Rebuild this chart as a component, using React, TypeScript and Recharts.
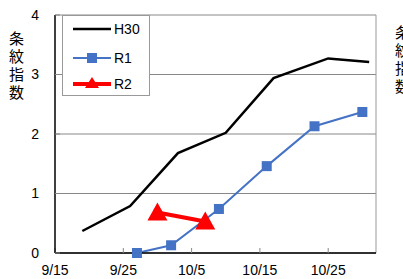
import { LineChart, Line, XAxis, YAxis, CartesianGrid, ReferenceLine } from "recharts";

const xTickLabels = ["9/15", "9/25", "10/5", "10/15", "10/25"];
const yTicks = [0, 1, 2, 3, 4];
const axisEnd = "11/1";

const h30Dates = ["9/19", "9/26", "10/3", "10/10", "10/17", "10/25", "10/31"];
const h30Values = [0.37, 0.79, 1.68, 2.02, 2.94, 3.27, 3.21];
const r1Dates = ["9/27", "10/2", "10/9", "10/16", "10/23", "10/30"];
const r1Values = [0, 0.13, 0.74, 1.46, 2.13, 2.37];
const r2Dates = ["9/30", "10/7"];
const r2Values = [0.68, 0.53];

const yLabel = "条紋指数";

// days counted from 9/15
const monthStart: Record<number, number> = { 9: 0, 10: 30, 11: 61 };
const dayOf = (s: string) => {
    const [m, d] = s.split("/").map(Number);
    return monthStart[m] + d - 15;
};
const toRows = (dates: string[], values: number[]) =>
    dates.map((d, i) => ({ day: dayOf(d), value: values[i] }));

const h30 = toRows(h30Dates, h30Values);
const r1 = toRows(r1Dates, r1Values);
const r2 = toRows(r2Dates, r2Values);

const xTicks = xTickLabels.map(dayOf);
const xMax = dayOf(axisEnd);

const BLUE = "#4472C4";
const RED = "#FF0000";
const FONT = "'Liberation Sans', Arial, sans-serif";
const JP = "'Noto Sans CJK JP', sans-serif";

const Square = (props: any) => {
    const { cx, cy } = props;
    if (cx == null || cy == null) return null;
    return <rect x={cx - 5} y={cy - 5} width={10} height={10} fill={BLUE} />;
};

const Triangle = (props: any) => {
    const { cx, cy } = props;
    if (cx == null || cy == null) return null;
    return (
        <polygon
            points={`${cx},${cy - 10} ${cx - 10},${cy + 8} ${cx + 10},${cy + 8}`}
            fill={RED}
        />
    );
};

const LegendBox = () => (
    <div
        style={{
            position: "absolute",
            left: 62,
            top: 15,
            width: 88,
            height: 81,
            border: "1px solid #999",
            background: "#fff",
            boxSizing: "border-box",
        }}
    >
        <svg width={88} height={81} style={{ position: "absolute", left: 0, top: 0 }}>
            <line x1={10} x2={48} y1={13} y2={13} stroke="#000" strokeWidth={2.5} />
            <text x={51} y={18} fontSize={14} fontFamily={FONT}>H30</text>
            <line x1={10} x2={48} y1={42} y2={42} stroke={BLUE} strokeWidth={2} />
            <rect x={24} y={37} width={10} height={10} fill={BLUE} />
            <text x={51} y={47} fontSize={14} fontFamily={FONT}>R1</text>
            <line x1={10} x2={48} y1={68} y2={68} stroke={RED} strokeWidth={4} />
            <polygon points="29,61 22,72 36,72" fill={RED} />
            <text x={51} y={73} fontSize={14} fontFamily={FONT}>R2</text>
        </svg>
    </div>
);

const VerticalLabel = ({ left, top }: { left: number; top: number }) => (
    <div
        style={{
            position: "absolute",
            left,
            top,
            writingMode: "vertical-rl",
            fontFamily: JP,
            fontSize: 15,
            lineHeight: "17px",
            letterSpacing: 3,
            color: "#000",
        }}
    >
        {yLabel}
    </div>
);

export default function App() {
    return (
        <div
            style={{
                position: "absolute",
                left: 0,
                top: 0,
                width: 403,
                height: 279,
                background: "#fff",
                overflow: "hidden",
            }}
        >
            <LineChart
                width={403}
                height={279}
                margin={{ top: 15, right: 27, bottom: 0, left: 10 }}
            >
                <CartesianGrid vertical={false} stroke="#888" />
                <XAxis
                    dataKey="day"
                    type="number"
                    domain={[0, xMax]}
                    ticks={xTicks}
                    tickFormatter={(v: number) => xTickLabels[xTicks.indexOf(v)] ?? ""}
                    height={26}
                    allowDataOverflow
                    axisLine={{ stroke: "#000", strokeWidth: 1.5 }}
                    tickLine={{ stroke: "#888" }}
                    tickSize={-5}
                    tickMargin={17}
                    tick={{ fill: "#000", fontSize: 14, fontFamily: FONT }}
                />
                <YAxis
                    type="number"
                    domain={[0, 4]}
                    ticks={yTicks}
                    width={45}
                    axisLine={{ stroke: "#000", strokeWidth: 1.5 }}
                    tickLine={{ stroke: "#888" }}
                    tickSize={-5}
                    tickMargin={21}
                    tick={{ fill: "#000", fontSize: 14, fontFamily: FONT }}
                />
                <ReferenceLine x={xMax} stroke="#999" />
                <Line
                    data={h30}
                    dataKey="value"
                    stroke="#000"
                    strokeWidth={2.5}
                    dot={false}
                    isAnimationActive={false}
                />
                <Line
                    data={r1}
                    dataKey="value"
                    stroke={BLUE}
                    strokeWidth={2}
                    dot={<Square />}
                    isAnimationActive={false}
                />
                <Line
                    data={r2}
                    dataKey="value"
                    stroke={RED}
                    strokeWidth={4}
                    dot={<Triangle />}
                    isAnimationActive={false}
                />
            </LineChart>
            <LegendBox />
            <VerticalLabel left={8} top={31} />
            <VerticalLabel left={394} top={25} />
        </div>
    );
}
